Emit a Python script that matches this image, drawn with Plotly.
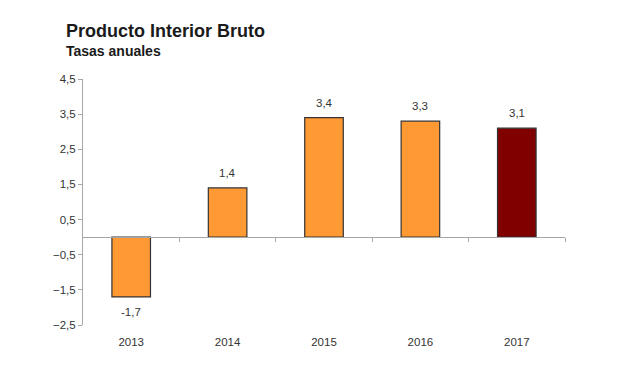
import plotly.graph_objects as go

years = ["2013", "2014", "2015", "2016", "2017"]
values = [-1.7, 1.4, 3.4, 3.3, 3.1]
colors = ["#FF9933", "#FF9933", "#FF9933", "#FF9933", "#800000"]
y_ticks = [-2.5, -1.5, -0.5, 0.5, 1.5, 2.5, 3.5, 4.5]

ymin, ymax = -2.5, 4.5
labels = [f"{v:.1f}".replace(".", ",") for v in values]

W, H = 620, 368
OFF = 8  # page body margin offset
L, T = 83 - OFF, 79 - OFF
R = W - (565 - OFF)
B = H - (325 - OFF)
pw = W - L - R
ph = H - T - B

fig = go.Figure()
fig.add_trace(go.Bar(
    x=years, y=values,
    marker=dict(color=colors, line=dict(color="#333333", width=1.2)),
    width=0.4, showlegend=False,
))
# invisible trace for the zero-crossing axis with boundary ticks
fig.add_trace(go.Scatter(x=[0], y=[0], xaxis="x2", mode="markers",
                         marker=dict(opacity=0), showlegend=False, hoverinfo="skip"))

annotations = [
    dict(text="<b>Producto Interior Bruto</b>", xref="paper", yref="paper",
         x=(64 - OFF - L) / pw, y=1 + (T - (31 - OFF)) / ph, xanchor="left", yanchor="middle",
         showarrow=False, font=dict(size=18, color="#1a1a1a")),
    dict(text="<b>Tasas anuales</b>", xref="paper", yref="paper",
         x=(64 - OFF - L) / pw, y=1 + (T - (51 - OFF)) / ph, xanchor="left", yanchor="middle",
         showarrow=False, font=dict(size=14, color="#1a1a1a")),
]
for i, (v, lab) in enumerate(zip(values, labels)):
    annotations.append(dict(
        x=i, y=v, xref="x", yref="y", text=lab, showarrow=False,
        yshift=15 if v >= 0 else -15, yanchor="middle",
        font=dict(size=11.5, color="#333333")))

fig.update_layout(
    width=W, height=H,
    margin=dict(l=L, r=R, t=T, b=B),
    plot_bgcolor="white", paper_bgcolor="white",
    separators=",.",
    font=dict(family="Liberation Sans, Arial", size=11, color="#333333"),
    xaxis=dict(type="category", categoryarray=years, range=[-0.5, 4.5],
               showline=False, showgrid=False, ticks="outside", ticklen=6,
               tickcolor="rgba(0,0,0,0)", automargin=False,
               tickfont=dict(size=11.5, color="#333333")),
    xaxis2=dict(overlaying="x", anchor="free", position=(0 - ymin) / (ymax - ymin),
                range=[-0.5, 4.5], tickvals=[0.5, 1.5, 2.5, 3.5, 4.5],
                showticklabels=False, showline=True, linecolor="#A6A6A6", linewidth=1,
                ticks="outside", ticklen=4, tickcolor="#A6A6A6", showgrid=False,
                zeroline=False, automargin=False),
    yaxis=dict(range=[ymin, ymax], tickvals=y_ticks, tickformat=".1f",
               showline=True, linecolor="#A6A6A6", linewidth=1,
               ticks="outside", ticklen=4, tickcolor="#A6A6A6",
               showgrid=False, zeroline=False, automargin=False,
               tickfont=dict(size=11.5, color="#333333")),
    annotations=annotations,
)

fig.write_html("out.html")
